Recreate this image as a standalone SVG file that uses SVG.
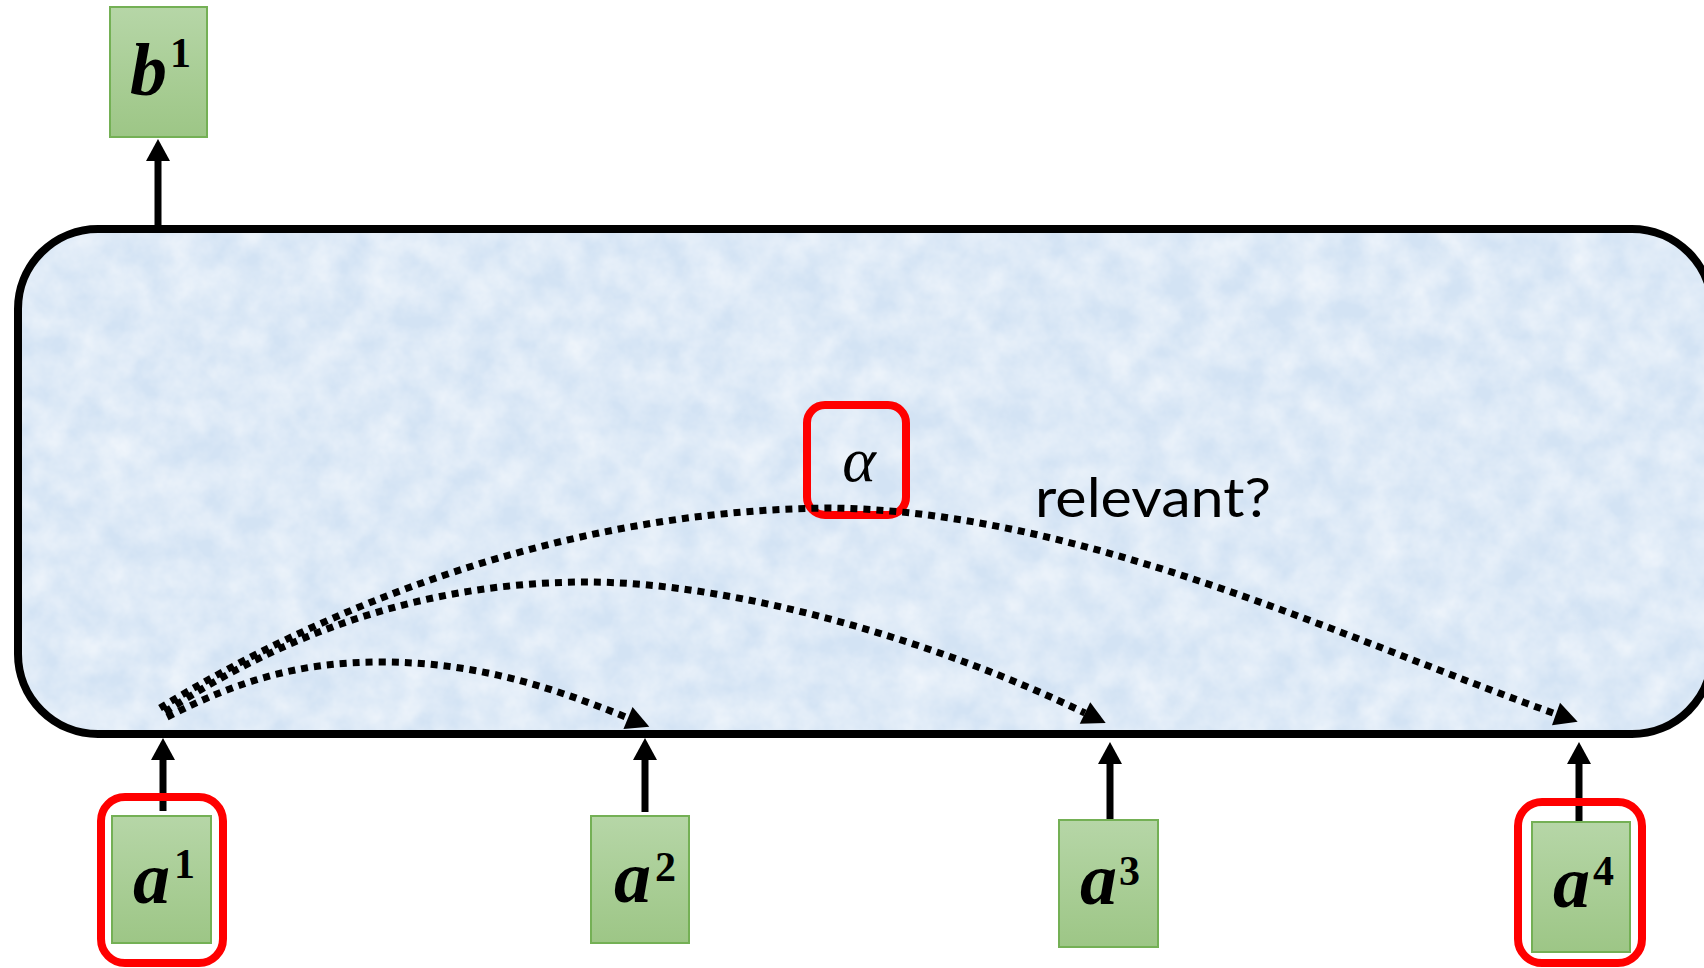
<svg xmlns="http://www.w3.org/2000/svg" width="1704" height="968" viewBox="0 0 1704 968">
<defs>
  <linearGradient id="green" x1="0" y1="0" x2="0" y2="1">
    <stop offset="0" stop-color="#b6d6a7"/>
    <stop offset="1" stop-color="#9dc686"/>
  </linearGradient>
  <filter id="tex" x="0" y="0" width="100%" height="100%">
    <feTurbulence type="fractalNoise" baseFrequency="0.03" numOctaves="4" seed="7"/>
    <feColorMatrix type="matrix" values="0 0 0 0 1  0 0 0 0 1  0 0 0 0 1  0.9 0 0 0 -0.2"/>
  </filter>
  <clipPath id="cclip">
    <rect x="18" y="229" width="1694" height="505" rx="80" ry="80"/>
  </clipPath>
  <marker id="solid" markerUnits="userSpaceOnUse" markerWidth="22" markerHeight="24" viewBox="0 -12 22 24" refX="0" refY="0" orient="auto" overflow="visible">
    <path d="M0,-12 L22,0 L0,12 z" fill="#000"/>
  </marker>
  <marker id="dhead" markerUnits="userSpaceOnUse" markerWidth="24" markerHeight="24" viewBox="0 -12 24 24" refX="0" refY="0" orient="auto" overflow="visible">
    <path d="M0,-12 L23,0 L0,12 z" fill="#000"/>
  </marker>
  <style>
    .gbox { fill: url(#green); stroke: #74b055; stroke-width: 2; }
    .redbox { fill: none; stroke: #ff0000; stroke-width: 8; }
    .lbl { font-family: "Liberation Serif", "DejaVu Serif", serif; font-weight: bold; font-style: italic; font-size: 74px; fill: #000; }
    .sup { font-style: normal; font-size: 42px; }
    .solidarrow { stroke: #000; stroke-width: 7; fill: none; marker-end: url(#solid); }
    .dotted { stroke: #000; stroke-width: 7; fill: none; stroke-dasharray: 7 6; marker-end: url(#dhead); }
  </style>
</defs>
<rect width="1704" height="968" fill="#ffffff"/>

<g id="container">
  <rect x="18" y="229" width="1694" height="505" rx="80" ry="80" fill="#d3e3f4"/>
  <g clip-path="url(#cclip)">
    <rect x="18" y="229" width="1694" height="505" filter="url(#tex)"/>
  </g>
  <rect x="18" y="229" width="1694" height="505" rx="80" ry="80" fill="none" stroke="#000" stroke-width="8"/>
</g>

<g id="alpha">
  <rect class="redbox" x="807" y="405" width="99" height="110" rx="18" ry="18"/>
  <text x="859" y="481" text-anchor="middle" font-family="'Liberation Serif', 'DejaVu Serif', serif" font-style="italic" font-size="64" fill="#000">α</text>
</g>

<g id="relevant">
  <text x="1035" y="517" font-family="Lato, 'Liberation Sans', sans-serif" font-size="54" fill="#000" textLength="236" lengthAdjust="spacingAndGlyphs">relevant?</text>
</g>

<g id="connectors">
  <line class="solidarrow" x1="158" y1="225" x2="158" y2="161"/>
  <line class="solidarrow" x1="163" y1="811" x2="163" y2="760"/>
  <line class="solidarrow" x1="645" y1="812" x2="645" y2="760"/>
  <line class="solidarrow" x1="1110" y1="820" x2="1110" y2="764"/>
  <line class="solidarrow" x1="1579" y1="822" x2="1579" y2="764"/>
  <path class="dotted" d="M167,717 C240,680 300,662 381,662 C470,662 545,684 628,718"/>
  <path class="dotted" d="M165,712 C290,630 430,582 586,582 C740,582 945,645 1085,713"/>
  <path class="dotted" d="M160,708 C320,610 560,510 830,508 C1080,511 1340,637 1556,714"/>
</g>

<g id="b1">
  <rect class="gbox" x="110" y="7" width="97" height="130"/>
  <text class="lbl" x="130" y="95">b<tspan class="sup" x="170" y="67">1</tspan></text>
</g>

<g id="a1">
  <rect class="gbox" x="112" y="816" width="99" height="127"/>
  <rect class="redbox" x="101" y="797" width="122" height="166" rx="24" ry="24"/>
  <text class="lbl" x="133" y="903">a<tspan class="sup" x="174" y="878">1</tspan></text>
</g>

<g id="a2">
  <rect class="gbox" x="591" y="816" width="98" height="127"/>
  <text class="lbl" x="614" y="902">a<tspan class="sup" x="655" y="881">2</tspan></text>
</g>

<g id="a3">
  <rect class="gbox" x="1059" y="820" width="99" height="127"/>
  <text class="lbl" x="1080" y="904">a<tspan class="sup" x="1119" y="885">3</tspan></text>
</g>

<g id="a4">
  <rect class="gbox" x="1532" y="822" width="98" height="130"/>
  <rect class="redbox" x="1518" y="802" width="124" height="161" rx="24" ry="24"/>
  <text class="lbl" x="1553" y="907">a<tspan class="sup" x="1593" y="885">4</tspan></text>
</g>
</svg>
